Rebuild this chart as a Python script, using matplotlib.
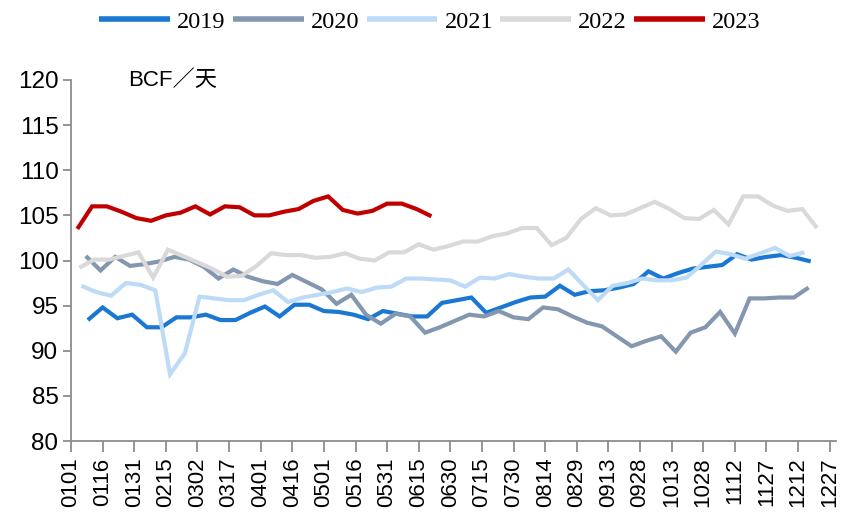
import matplotlib
matplotlib.use("Agg")
import matplotlib.pyplot as plt
import numpy as np

# ---- data (weekly, BCF/day) ----
tick_labels = ["0101", "0116", "0131", "0215", "0302", "0317", "0401", "0416",
               "0501", "0516", "0531", "0615", "0630", "0715", "0730", "0814",
               "0829", "0913", "0928", "1013", "1028", "1112", "1127", "1212", "1227"]

years = ["2019", "2020", "2021", "2022", "2023"]
# day-of-year offset (days after Jan 1) of the first weekly observation
start_day = {"2019": 8, "2020": 7, "2021": 5, "2022": 4, "2023": 3}

v2019 = [93.4, 94.8, 93.6, 94.0, 92.6, 92.6, 93.7, 93.7, 94.0, 93.4,
         93.4, 94.2, 94.9, 93.8, 95.1, 95.1, 94.4, 94.3, 94.0, 93.5,
         94.4, 94.1, 93.8, 93.8, 95.3, 95.6, 95.9, 94.2, 94.8, 95.4,
         95.9, 96.0, 97.2, 96.2, 96.6, 96.7, 97.0, 97.4, 98.8, 98.0,
         98.6, 99.1, 99.3, 99.5, 100.7, 100.1, 100.4, 100.6, 100.3, 99.9]
v2020 = [100.5, 98.9, 100.4, 99.4, 99.6, 99.9, 100.4, 100.1, 99.3, 98.0,
         99.0, 98.2, 97.7, 97.4, 98.4, 97.6, 96.8, 95.2, 96.2, 94.0,
         93.0, 94.1, 93.8, 92.0, 92.6, 93.3, 94.0, 93.8, 94.4, 93.7,
         93.5, 94.8, 94.6, 93.8, 93.1, 92.7, 91.6, 90.5, 91.1, 91.6,
         89.9, 92.0, 92.6, 94.3, 91.9, 95.8, 95.8, 95.9, 95.9, 97.0]
v2021 = [97.2, 96.5, 96.1, 97.5, 97.3, 96.7, 87.4, 89.7, 96.0, 95.8,
         95.6, 95.6, 96.2, 96.7, 95.4, 95.9, 96.2, 96.5, 96.9, 96.5,
         97.0, 97.1, 98.0, 98.0, 97.9, 97.8, 97.1, 98.1, 98.0, 98.5,
         98.2, 98.0, 98.0, 99.0, 97.3, 95.6, 97.2, 97.5, 98.0, 97.8,
         97.8, 98.1, 99.5, 101.0, 100.7, 100.2, 100.8, 101.4, 100.5, 100.9]
v2022 = [99.2, 100.1, 100.1, 100.5, 100.9, 98.1, 101.2, 100.5, 99.8, 99.1,
         98.2, 98.3, 99.4, 100.8, 100.6, 100.6, 100.3, 100.4, 100.8, 100.2,
         100.0, 100.9, 100.9, 101.8, 101.2, 101.6, 102.1, 102.1, 102.7, 103.0,
         103.6, 103.6, 101.7, 102.5, 104.6, 105.8, 105.0, 105.1, 105.8, 106.5,
         105.7, 104.7, 104.6, 105.6, 104.0, 107.1, 107.1, 106.1, 105.5, 105.7,
         103.6]
v2023 = [103.5, 106.0, 106.0, 105.4, 104.7, 104.4, 105.0, 105.3, 106.0, 105.1,
         106.0, 105.9, 105.0, 105.0, 105.4, 105.7, 106.6, 107.1, 105.6, 105.2,
         105.5, 106.3, 106.3, 105.7, 104.9]

series = {"2019": v2019, "2020": v2020, "2021": v2021, "2022": v2022, "2023": v2023}
colors = {"2019": "#1A78D2", "2020": "#8497B0", "2021": "#BDDAF7",
          "2022": "#D9D9D9", "2023": "#C00000"}

# ---- figure ----
fig = plt.figure(figsize=(8.43, 5.19), dpi=100)
ax = fig.add_axes([71 / 843, 1 - 441 / 519, (836 - 71) / 843, (441 - 80) / 519])

handles = []
for y in years:
    vals = series[y]
    x = start_day[y] + 7 * np.arange(len(vals))
    ln, = ax.plot(x, vals, color=colors[y], lw=3.0, solid_joinstyle="miter",
                  solid_capstyle="butt", label=y)
    handles.append(ln)

tick_pos = np.arange(len(tick_labels)) * 15
ax.set_xticks(tick_pos)
ax.set_xticklabels(tick_labels, rotation=90, fontsize=16,
                   family="Liberation Sans")
ax.set_xlim(0, 363)
ax.set_ylim(80, 120)
ax.set_yticks(np.arange(80, 121, 5))
ax.set_yticklabels([str(v) for v in range(80, 121, 5)], fontsize=17.5,
                   family="Liberation Sans")

for s in ["top", "right"]:
    ax.spines[s].set_visible(False)
for s in ["left", "bottom"]:
    ax.spines[s].set_color("#8C8C8C")
    ax.spines[s].set_linewidth(1.3)
ax.tick_params(axis="y", direction="out", length=6, width=1.3, color="#8C8C8C", pad=3)
ax.tick_params(axis="x", direction="out", length=8, width=1.3, color="#8C8C8C", pad=4)

ax.text(128 / 843, 1 - 81 / 519, "BCF／天", transform=fig.transFigure,
        fontsize=16, family=["Liberation Sans", "Noto Sans CJK SC"],
        va="center", ha="left")

fig.legend(handles=handles, labels=years, loc="center", ncol=5,
           bbox_to_anchor=(430 / 843, 1 - 22 / 519), frameon=False,
           prop={"family": "Liberation Serif", "size": 17.5},
           handlelength=2.9, handletextpad=0.3, columnspacing=0.3,
           borderpad=0, borderaxespad=0)
for lh in fig.legends[0].get_lines():
    lh.set_linewidth(4)

fig.savefig("out.png", dpi=100)
